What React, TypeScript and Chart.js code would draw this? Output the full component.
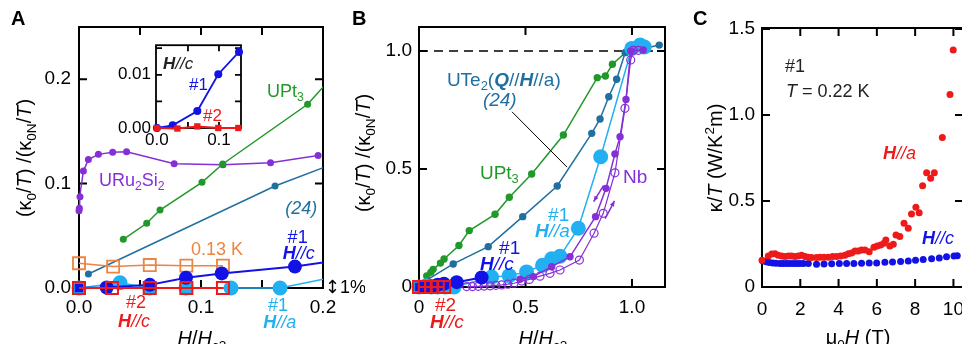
import React, { useEffect, useRef } from 'react';
import { Chart, registerables } from 'chart.js';
Chart.register(...registerables);

const FAM = '"Liberation Sans", Arial, Helvetica, sans-serif';

// ---------- Panels A & B : x = H/Hc2, y = (κ0/T)/(κ0N/T) ----------
const uru2si2 = [[0, 0.074], [0.0003, 0.0765], [0.0008, 0.0875], [0.0036, 0.112], [0.0077, 0.123], [0.0159, 0.128], [0.0276, 0.13], [0.039, 0.1306], [0.078, 0.119], [0.118, 0.118], [0.157, 0.12], [0.196, 0.127]];
const upt3 = [[0.0363, 0.0466], [0.0555, 0.062], [0.0664, 0.0747], [0.1008, 0.1012], [0.1178, 0.1188], [0.1874, 0.176], [0.236, 0.239], [0.357, 0.308], [0.424, 0.38], [0.529, 0.479], [0.678, 0.644], [0.837, 0.887], [0.875, 0.894], [0.908, 0.944], [0.972, 0.995]];
const ute2Ref24 = [[0.0077, 0.0134], [0.1607, 0.0977], [0.325, 0.171], [0.487, 0.298], [0.649, 0.428], [0.811, 0.651], [0.85, 0.712], [0.891, 0.806], [0.928, 0.88], [0.968, 0.993], [1.128, 1.025]];
const k013K = [[0, 0.0237], [0.028, 0.0205], [0.058, 0.022], [0.088, 0.0214], [0.118, 0.0214]];
const s1Hc = [[0, 0], [0.0227, 0.0005], [0.058, 0.003], [0.0877, 0.0098], [0.117, 0.014], [0.177, 0.0205], [0.294, 0.04]];
const s1Ha = [[0, 0], [0.0336, 0.005], [0.058, 0], [0.0877, 0], [0.1246, 0], [0.1648, 0], [0.341, 0.042], [0.424, 0.048], [0.505, 0.064], [0.58, 0.092], [0.623, 0.12], [0.662, 0.13], [0.748, 0.249], [0.853, 0.552], [0.999, 1.011], [1.038, 1.025], [1.058, 1.017]];
const s2Hc = [[0, 0], [0.027, 0], [0.058, 0], [0.088, 0], [0.118, 0]];
const nbDown = [[0.474, 0.033], [0.537, 0.044], [0.623, 0.086], [0.709, 0.128], [0.829, 0.298], [0.878, 0.418], [0.92, 0.564], [0.944, 0.637], [0.972, 0.795], [0.994, 1.0], [1.053, 1.004]];
const nbUp = [[0.224, 0.002], [0.251, 0.002], [0.278, 0.003], [0.306, 0.004], [0.334, 0.005], [0.361, 0.007], [0.389, 0.009], [0.417, 0.012], [0.446, 0.016], [0.482, 0.025], [0.518, 0.032], [0.568, 0.046], [0.615, 0.058], [0.662, 0.072], [0.753, 0.114], [0.822, 0.228], [0.865, 0.312], [0.92, 0.484], [0.967, 0.757], [0.994, 0.962], [1.006, 1.003], [1.03, 1.003]];

// ---------- Inset of A ----------
const insetS1Hc = [[0, 0], [0.0254, 0.0005], [0.0651, 0.0032], [0.0989, 0.0101], [0.1323, 0.0143]];
const insetS2Hc = [[0, 0], [0.033, -0.0001], [0.0651, 0.0003], [0.0989, 0], [0.1312, 0]];

// ---------- Panel C : μ0H (T) vs κ/T ----------
const cHa = [[0, 0.155], [0.33, 0.18], [0.51, 0.192], [0.68, 0.194], [0.85, 0.185], [1.03, 0.18], [1.2, 0.177], [1.38, 0.18], [1.55, 0.18], [1.72, 0.177], [1.9, 0.18], [2.07, 0.185], [2.25, 0.177], [2.42, 0.173], [2.59, 0.171], [2.85, 0.171], [3.03, 0.173], [3.24, 0.173], [3.46, 0.173], [3.69, 0.177], [3.9, 0.177], [4.11, 0.18], [4.33, 0.185], [4.51, 0.194], [4.68, 0.198], [4.86, 0.209], [5.03, 0.209], [5.2, 0.215], [5.38, 0.215], [5.6, 0.205], [5.85, 0.231], [6.02, 0.238], [6.2, 0.244], [6.37, 0.254], [6.47, 0.273], [6.68, 0.238], [6.86, 0.248], [7.0, 0.302], [7.2, 0.293], [7.42, 0.37], [7.64, 0.341], [7.81, 0.425], [8.04, 0.463], [8.21, 0.432], [8.39, 0.589], [8.6, 0.665], [8.81, 0.632], [9.0, 0.665], [9.42, 0.87], [9.82, 1.12], [9.99, 1.378]];
const cHc = [[0.035, 0.153], [0.21, 0.147], [0.38, 0.143], [0.56, 0.14], [0.73, 0.138], [0.94, 0.137], [1.11, 0.137], [1.29, 0.137], [1.46, 0.136], [1.64, 0.136], [1.81, 0.136], [1.98, 0.137], [2.16, 0.136], [2.42, 0.136], [2.85, 0.133], [3.24, 0.134], [3.64, 0.135], [4.04, 0.136], [4.42, 0.136], [4.8, 0.137], [5.2, 0.138], [5.6, 0.139], [5.99, 0.14], [6.42, 0.144], [6.82, 0.146], [7.24, 0.149], [7.64, 0.151], [8.02, 0.155], [8.42, 0.16], [8.86, 0.164], [9.26, 0.168], [9.64, 0.176], [10.03, 0.18], [10.2, 0.182]];

const PURPLE = '#8530d6';
const GREEN = '#21992a';
const TEAL = '#1f6fa0';
const ORANGE = '#ec8442';
const BLUE = '#1212e6';
const LBLUE = '#22b0f2';
const RED = '#ee1a1a';

type Seg = { t: string; i?: boolean; b?: boolean; sub?: boolean; sup?: boolean; fam?: string };
type Lbl = { x: number; y: number; segs: Seg[]; color: string; size?: number };
type Ln = { x1: number; y1: number; x2: number; y2: number; color: string; width: number; arrow?: boolean };

const pts = (a: number[][]) => a.map(([x, y]) => ({ x, y }));

function segFont(s: Seg, size: number) {
  const sz = s.sub || s.sup ? size * 0.68 : size;
  return `${s.i ? 'italic ' : ''}${s.b ? 'bold ' : ''}${sz}px ${s.fam ?? FAM}`;
}
function drawRich(ctx: CanvasRenderingContext2D, segs: Seg[], x: number, yMid: number, size: number, color: string, align: string) {
  let w = 0;
  for (const s of segs) { ctx.font = segFont(s, size); w += ctx.measureText(s.t).width; }
  let cx = align === 'center' ? x - w / 2 : align === 'right' ? x - w : x;
  const base = yMid + size * 0.358;
  ctx.fillStyle = color;
  ctx.textAlign = 'left';
  ctx.textBaseline = 'alphabetic';
  for (const s of segs) {
    ctx.font = segFont(s, size);
    const dy = s.sub ? size * 0.22 : s.sup ? -size * 0.42 : 0;
    ctx.fillText(s.t, cx, base + dy);
    cx += ctx.measureText(s.t).width;
  }
}

const Hc = (b = true): Seg[] => [{ t: 'H', i: true, b }, { t: '//', i: true }, { t: 'c', i: true }];
const Ha = (): Seg[] => [{ t: 'H', i: true, b: true }, { t: '//', i: true }, { t: 'a', i: true }];
const yTitleAB: Seg[] = [{ t: '(κ' }, { t: '0', sub: true }, { t: '/' }, { t: 'T', i: true }, { t: ') /(κ' }, { t: '0N', sub: true }, { t: '/' }, { t: 'T', i: true }, { t: ')' }];
const xTitleAB: Seg[] = [{ t: 'H', i: true }, { t: '/' }, { t: 'H', i: true }, { t: 'c2', sub: true }];

type Deco = {
  lw: number; tl: number; fill?: string;
  hlines?: { y: number; dash: number[]; color: string; width: number }[];
  labels?: Lbl[]; lines?: Ln[]; labelSize: number;
  xTitle?: { segs: Seg[]; x: number; y: number; size: number };
  yTitle?: { segs: Seg[]; x: number; y: number; size: number };
  letter?: { t: string; x: number; y: number };
};

function makeDeco(o: Deco) {
  return {
    id: 'deco',
    beforeDatasetsDraw(chart: any) {
      const ctx = chart.ctx as CanvasRenderingContext2D;
      const { left, right, top, bottom } = chart.chartArea;
      const xs = chart.scales.x, ys = chart.scales.y;
      ctx.save();
      if (o.fill) { ctx.fillStyle = o.fill; ctx.fillRect(left, top, right - left, bottom - top); }
      for (const h of o.hlines || []) {
        const py = ys.getPixelForValue(h.y);
        ctx.setLineDash(h.dash); ctx.strokeStyle = h.color; ctx.lineWidth = h.width;
        ctx.beginPath(); ctx.moveTo(left, py); ctx.lineTo(right, py); ctx.stroke();
        ctx.setLineDash([]);
      }
      ctx.strokeStyle = '#000'; ctx.lineWidth = o.lw;
      ctx.strokeRect(left, top, right - left, bottom - top);
      ctx.beginPath();
      for (const t of xs.ticks) {
        const p = xs.getPixelForValue(t.value);
        if (p <= left + 1 || p >= right - 1) continue;
        ctx.moveTo(p, bottom); ctx.lineTo(p, bottom - o.tl);
        ctx.moveTo(p, top); ctx.lineTo(p, top + o.tl);
      }
      for (const t of ys.ticks) {
        const p = ys.getPixelForValue(t.value);
        if (p <= top + 1 || p >= bottom - 1) continue;
        ctx.moveTo(left, p); ctx.lineTo(left + o.tl, p);
        ctx.moveTo(right, p); ctx.lineTo(right - o.tl, p);
      }
      ctx.stroke();
      ctx.restore();
    },
    afterDatasetsDraw(chart: any) {
      const ctx = chart.ctx as CanvasRenderingContext2D;
      const xs = chart.scales.x, ys = chart.scales.y;
      ctx.save();
      for (const l of o.lines || []) {
        const x1 = xs.getPixelForValue(l.x1), y1 = ys.getPixelForValue(l.y1);
        const x2 = xs.getPixelForValue(l.x2), y2 = ys.getPixelForValue(l.y2);
        ctx.strokeStyle = l.color; ctx.fillStyle = l.color; ctx.lineWidth = l.width;
        ctx.beginPath(); ctx.moveTo(x1, y1); ctx.lineTo(x2, y2); ctx.stroke();
        if (l.arrow) {
          const a = Math.atan2(y2 - y1, x2 - x1), h = 6;
          ctx.beginPath();
          ctx.moveTo(x2, y2);
          ctx.lineTo(x2 - h * Math.cos(a - 0.4), y2 - h * Math.sin(a - 0.4));
          ctx.lineTo(x2 - h * Math.cos(a + 0.4), y2 - h * Math.sin(a + 0.4));
          ctx.closePath(); ctx.fill();
        }
      }
      for (const l of o.labels || []) {
        drawRich(ctx, l.segs, xs.getPixelForValue(l.x), ys.getPixelForValue(l.y), l.size ?? o.labelSize, l.color, 'left');
      }
      ctx.restore();
    },
    afterDraw(chart: any) {
      const ctx = chart.ctx as CanvasRenderingContext2D;
      ctx.save();
      if (o.xTitle) drawRich(ctx, o.xTitle.segs, o.xTitle.x, o.xTitle.y, o.xTitle.size, '#000', 'center');
      if (o.yTitle) {
        ctx.translate(o.yTitle.x, o.yTitle.y); ctx.rotate(-Math.PI / 2);
        drawRich(ctx, o.yTitle.segs, 0, 0, o.yTitle.size, '#000', 'center');
        ctx.setTransform(1, 0, 0, 1, 0, 0);
      }
      if (o.letter) drawRich(ctx, [{ t: o.letter.t, b: true }], o.letter.x, o.letter.y, 20, '#000', 'left');
      ctx.restore();
    },
  };
}

function scale(min: number, max: number, step: number, fmt: (v: number) => string, pad: number, size: number, fit: (s: any) => void) {
  return {
    type: 'linear', min, max,
    grid: { display: false, drawTicks: false },
    border: { display: false },
    ticks: { stepSize: step, includeBounds: false, autoSkip: false, maxRotation: 0, padding: pad, color: '#000', font: { family: FAM, size }, callback: (v: any) => fmt(Number(v)) },
    afterFit: fit,
  };
}

const isMult = (v: number, m: number) => Math.abs(v / m - Math.round(v / m)) < 1e-6;

type Box = { W: number; H: number; left: number; right: number; top: number; bottom: number };

function build(canvas: HTMLCanvasElement, box: Box, datasets: any[], xs: any, ys: any, deco: Deco) {
  return new Chart(canvas, {
    type: 'scatter',
    data: { datasets },
    options: {
      responsive: false, animation: false, events: [],
      layout: { padding: { left: 0, top: box.top, right: box.W - box.right, bottom: 0 } },
      plugins: { legend: { display: false }, tooltip: { enabled: false } },
      scales: { x: xs, y: ys },
    } as any,
    plugins: [makeDeco(deco) as any],
  });
}

function line(data: number[][], color: string, o: any = {}) {
  return {
    data: pts(data), showLine: true, borderColor: color, backgroundColor: color,
    pointBackgroundColor: color, pointBorderColor: color, borderWidth: 1.5, pointBorderWidth: 0,
    pointRadius: 3.5, clip: false, ...o,
  };
}

function panelA(c: HTMLCanvasElement) {
  const box = { W: 365, H: 344, left: 79, right: 323, top: 27, bottom: 288 };
  const clipA = { left: 20, top: 0, right: 0, bottom: 20 };
  const ds = [
    line(s2Hc, RED, { pointStyle: 'rect', pointRadius: 8.5, pointBackgroundColor: 'rgba(0,0,0,0)', pointBorderWidth: 2, borderWidth: 2, clip: clipA }),
    line(s1Hc, BLUE, { pointStyle: ['rect', 'circle', 'circle', 'circle', 'circle', 'circle', 'circle'], pointRadius: [6, 7, 7, 7, 7, 7, 7], borderWidth: 2, clip: clipA }),
    line(s1Ha, LBLUE, { pointRadius: 7.5, clip: clipA }),
    line(k013K, ORANGE, { pointStyle: 'rect', pointRadius: 8.5, pointBackgroundColor: 'rgba(0,0,0,0)', pointBorderWidth: 1.8, clip: clipA }),
    line(ute2Ref24, TEAL, { pointRadius: 3.5, clip: clipA }),
    line(upt3, GREEN, { pointRadius: 3.5, clip: clipA }),
    line(uru2si2, PURPLE, { pointRadius: 3.5, clip: clipA }),
  ];
  const xs = scale(0, 0.2, 0.05, v => (isMult(v, 0.1) ? v.toFixed(1) : ''), 8, 19, (s: any) => { s.height = box.H - box.bottom; });
  const ys = scale(0, 0.25, 0.1, v => v.toFixed(1), 8, 19, (s: any) => { s.width = box.left; });
  return build(c, box, ds, xs, ys, {
    lw: 2, tl: 8, labelSize: 18,
    labels: [
      { x: 0.154, y: 0.1887, segs: [{ t: 'UPt' }, { t: '3', sub: true }], color: GREEN },
      { x: 0.0164, y: 0.1034, segs: [{ t: 'URu' }, { t: '2', sub: true }, { t: 'Si' }, { t: '2', sub: true }], color: PURPLE },
      { x: 0.169, y: 0.0766, segs: [{ t: '(24)', i: true }], color: TEAL },
      { x: 0.0918, y: 0.0374, segs: [{ t: '0.13 K' }], color: ORANGE },
      { x: 0.171, y: 0.0489, segs: [{ t: '#1' }], color: BLUE },
      { x: 0.167, y: 0.0335, segs: Hc(), color: BLUE },
      { x: 0.0385, y: -0.0134, segs: [{ t: '#2' }], color: RED },
      { x: 0.032, y: -0.0316, segs: Hc(), color: RED },
      { x: 0.155, y: -0.0163, segs: [{ t: '#1' }], color: LBLUE },
      { x: 0.151, y: -0.0326, segs: Ha(), color: LBLUE },
      { x: 0.2016, y: 0.001, segs: [{ t: '↕', fam: '"DejaVu Sans", sans-serif' }, { t: '1%' }], color: '#000', size: 18 },
    ],
    xTitle: { segs: xTitleAB, x: 202, y: 338, size: 20 },
    yTitle: { segs: yTitleAB, x: 24, y: 158, size: 20 },
    letter: { t: 'A', x: 11, y: 18 },
  });
}

function panelInset(c: HTMLCanvasElement) {
  const box = { W: 150, H: 125, left: 56, right: 141, top: 14, bottom: 98 };
  const ds = [
    line(insetS2Hc, RED, { pointStyle: 'rect', pointRadius: 4.5, borderWidth: 2 }),
    line(insetS1Hc, BLUE, { pointRadius: 4, borderWidth: 1.8 }),
  ];
  const xs = scale(-0.0015, 0.1355, 0.05, v => (isMult(v, 0.1) ? v.toFixed(1) : ''), 2, 17, (s: any) => { s.height = box.H - box.bottom; });
  const ys = scale(0, 0.01556, 0.005, v => (isMult(v, 0.01) ? v.toFixed(2) : ''), 5, 17, (s: any) => { s.width = box.left; });
  return build(c, box, ds, xs, ys, {
    lw: 1.8, tl: 6, fill: '#fff', labelSize: 17,
    labels: [
      { x: 0.0098, y: 0.0122, segs: Hc(), color: '#222' },
      { x: 0.0517, y: 0.0083, segs: [{ t: '#1' }], color: BLUE },
      { x: 0.0743, y: 0.0024, segs: [{ t: '#2' }], color: RED },
    ],
  });
}

function panelB(c: HTMLCanvasElement) {
  const box = { W: 340, H: 344, left: 79, right: 325, top: 27, bottom: 287 };
  const ds = [
    line(s2Hc, RED, { pointStyle: 'rect', pointRadius: 8.5, pointBackgroundColor: 'rgba(0,0,0,0)', pointBorderWidth: 2, borderWidth: 2 }),
    line(s1Hc, BLUE, { pointStyle: ['rect', 'circle', 'circle', 'circle', 'circle', 'circle', 'circle'], pointRadius: [6, 7, 7, 7, 7, 7, 7], borderWidth: 2 }),
    line(nbDown, PURPLE, { pointRadius: 3.7 }),
    line(nbUp, PURPLE, { pointRadius: 4, pointBackgroundColor: 'rgba(0,0,0,0)', pointBorderWidth: 1.2, borderWidth: 1.2 }),
    line(s1Ha, LBLUE, { pointRadius: 7.5 }),
    line(ute2Ref24, TEAL, { pointRadius: 3.7 }),
    line(upt3, GREEN, { pointRadius: 3.7 }),
  ];
  const fmt = (v: number) => (Math.abs(v) < 1e-9 ? '0' : v.toFixed(1));
  const xs = scale(0, 1.155, 0.5, fmt, 9, 19, (s: any) => { s.height = box.H - box.bottom; });
  const ys = scale(0, 1.1017, 0.5, fmt, 7, 19, (s: any) => { s.width = box.left; });
  return build(c, box, ds, xs, ys, {
    lw: 2, tl: 8, labelSize: 19,
    hlines: [{ y: 1, dash: [9, 6], color: '#000', width: 1.5 }],
    lines: [
      { x1: 0.437, y1: 0.742, x2: 0.695, y2: 0.508, color: '#000', width: 1 },
      { x1: 0.866, y1: 0.43, x2: 0.82, y2: 0.362, color: PURPLE, width: 1.5, arrow: true },
      { x1: 0.874, y1: 0.29, x2: 0.918, y2: 0.365, color: PURPLE, width: 1.5, arrow: true },
    ],
    labels: [
      { x: 0.131, y: 0.881, segs: [{ t: 'UTe' }, { t: '2', sub: true }, { t: '(' }, { t: 'Q', i: true, b: true }, { t: '//' }, { t: 'H', i: true, b: true }, { t: '//a)' }], color: TEAL },
      { x: 0.3, y: 0.797, segs: [{ t: '(24)', i: true }], color: TEAL },
      { x: 0.286, y: 0.487, segs: [{ t: 'UPt' }, { t: '3', sub: true }], color: GREEN },
      { x: 0.606, y: 0.309, segs: [{ t: '#1' }], color: LBLUE },
      { x: 0.545, y: 0.242, segs: Ha(), color: LBLUE },
      { x: 0.376, y: 0.169, segs: [{ t: '#1' }], color: BLUE },
      { x: 0.286, y: 0.102, segs: Hc(), color: BLUE },
      { x: 0.075, y: -0.072, segs: [{ t: '#2' }], color: RED },
      { x: 0.052, y: -0.144, segs: Hc(), color: RED },
      { x: 0.958, y: 0.47, segs: [{ t: 'Nb' }], color: PURPLE },
    ],
    xTitle: { segs: xTitleAB, x: 203, y: 338, size: 20 },
    yTitle: { segs: yTitleAB, x: 23, y: 153, size: 20 },
    letter: { t: 'B', x: 12, y: 18 },
  });
}

function panelC(c: HTMLCanvasElement) {
  const box = { W: 320, H: 344, left: 82, right: 283, top: 28, bottom: 287 };
  const dot = (d: number[][], color: string) => ({ data: pts(d), showLine: false, pointRadius: 3.5, pointBorderWidth: 0, pointBackgroundColor: color, backgroundColor: color, clip: false });
  const ds = [dot(cHa, RED), dot(cHc, BLUE)];
  const xs = scale(0, 10.5, 2, v => String(Math.round(v)), 11, 19, (s: any) => { s.height = box.H - box.bottom; });
  const ys = scale(0, 1.506, 0.5, v => (Math.abs(v) < 1e-9 ? '0' : v.toFixed(1)), 7, 19, (s: any) => { s.width = box.left; });
  return build(c, box, ds, xs, ys, {
    lw: 2, tl: 8, labelSize: 18,
    labels: [
      { x: 1.2, y: 1.285, segs: [{ t: '#1' }], color: '#222' },
      { x: 1.25, y: 1.145, segs: [{ t: 'T', i: true }, { t: ' = 0.22 K' }], color: '#222' },
      { x: 6.32, y: 0.779, segs: Ha(), color: RED },
      { x: 8.36, y: 0.285, segs: Hc(), color: BLUE },
    ],
    xTitle: { segs: [{ t: 'μ' }, { t: '0', sub: true }, { t: 'H', i: true }, { t: ' (T)' }], x: 178, y: 337, size: 20 },
    yTitle: { segs: [{ t: 'κ/' }, { t: 'T', i: true }, { t: ' (W/K' }, { t: '2', sup: true }, { t: 'm)' }], x: 35, y: 158, size: 20 },
    letter: { t: 'C', x: 13, y: 18 },
  });
}

export default function App() {
  const a = useRef<HTMLCanvasElement>(null);
  const ai = useRef<HTMLCanvasElement>(null);
  const b = useRef<HTMLCanvasElement>(null);
  const c = useRef<HTMLCanvasElement>(null);
  useEffect(() => {
    const charts = [panelA(a.current!), panelInset(ai.current!), panelB(b.current!), panelC(c.current!)];
    return () => charts.forEach(ch => ch.destroy());
  }, []);
  const abs = (left: number, top: number): React.CSSProperties => ({ position: 'absolute', left, top });
  return (
    <div style={{ position: 'fixed', left: 0, top: 0, width: 962, height: 344, overflow: 'hidden', background: '#fff' }}>
      <canvas ref={a} width={365} height={344} style={abs(0, 0)} />
      <canvas ref={b} width={340} height={344} style={abs(340, 0)} />
      <canvas ref={c} width={320} height={344} style={abs(680, 0)} />
      <canvas ref={ai} width={150} height={125} style={abs(100, 30)} />
    </div>
  );
}
